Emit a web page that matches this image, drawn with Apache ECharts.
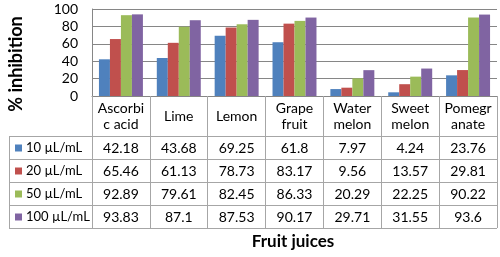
<!DOCTYPE html>
<html>
<head>
<meta charset="utf-8">
<script src="https://cdn.jsdelivr.net/npm/echarts@6/dist/echarts.min.js"></script>
<style>
  html, body { margin: 0; padding: 0; background: #fff; }
  #chart { width: 500px; height: 257px; }
</style>
</head>
<body>
<div id="chart"></div>
<script>
// chart data
const categories = ['Ascorbi\nc acid', 'Lime', 'Lemon', 'Grape\nfruit', 'Water\nmelon', 'Sweet\nmelon', 'Pomegr\nanate']
const seriesNames = ['10 µL/mL', '20 µL/mL', '50 µL/mL', '100 µL/mL']
const dose10 = [42.18, 43.68, 69.25, 61.8, 7.97, 4.24, 23.76]
const dose20 = [65.46, 61.13, 78.73, 83.17, 9.56, 13.57, 29.81]
const dose50 = [92.89, 79.61, 82.45, 86.33, 20.29, 22.25, 90.22]
const dose100 = [93.83, 87.1, 87.53, 90.17, 29.71, 31.55, 93.6]
const yTicks = [0, 20, 40, 60, 80, 100]

const seriesData = [dose10, dose20, dose50, dose100]
const colors = ['#4F81BD', '#C0504D', '#9BBB59', '#8064A2']
const font = 'Lato, "Open Sans", sans-serif'
const borderColor = '#A6A6A6'

const chart = echarts.init(document.getElementById('chart'), null, { renderer: 'canvas' })

// table geometry (header row below the axis, then one row per series)
const plotLeft = 92
const plotRight = 497
const axisY = 96
const headerBottom = 136
const rowH = 23
const tableLeft = 9

const option = {
  animation: false,
  backgroundColor: '#fff',
  textStyle: { fontFamily: font },
  grid: { left: plotLeft, right: 500 - plotRight, top: 9, bottom: 257 - axisY, containLabel: false },
  xAxis: {
    type: 'category',
    data: categories,
    axisLine: { show: true, lineStyle: { color: '#868686', width: 1 } },
    axisTick: { show: true, interval: 0, length: headerBottom - axisY + rowH * seriesData.length, lineStyle: { color: borderColor } },
    axisLabel: {
      interval: 0,
      color: '#000',
      fontSize: 14,
      lineHeight: 16,
      margin: (headerBottom - axisY) / 2,
      verticalAlign: 'middle',
      fontFamily: font
    }
  },
  yAxis: {
    type: 'value',
    min: yTicks[0],
    max: yTicks[yTicks.length - 1],
    interval: 20,
    axisLine: { show: true, lineStyle: { color: '#868686' } },
    axisTick: { show: false },
    axisLabel: { color: '#000', fontSize: 14, margin: 14, fontFamily: font },
    splitLine: { lineStyle: { color: '#868686', width: 1 } }
  },
  series: seriesData.map((d, i) => ({
    name: seriesNames[i],
    type: 'bar',
    data: d,
    barGap: '0%',
    barCategoryGap: '24%',
    itemStyle: { color: colors[i] }
  }))
}

chart.setOption(option)

// build the data table under the chart
const graphics = []
const lineStyle = { stroke: borderColor, lineWidth: 1 }
for (let r = 0; r <= seriesData.length; r++) {
  const y = headerBottom + r * rowH + 0.5
  graphics.push({ type: 'line', shape: { x1: tableLeft, y1: y, x2: plotRight, y2: y }, style: lineStyle, silent: true })
}
graphics.push({
  type: 'line',
  shape: { x1: tableLeft + 0.5, y1: headerBottom, x2: tableLeft + 0.5, y2: headerBottom + rowH * seriesData.length },
  style: lineStyle, silent: true
})
seriesData.forEach((d, r) => {
  const cy = headerBottom + r * rowH + rowH / 2 + 0.5
  graphics.push({ type: 'rect', shape: { x: 15, y: cy - 3.5, width: 7, height: 7 }, style: { fill: colors[r] }, silent: true })
  graphics.push({
    type: 'text', x: 26, y: cy,
    style: { text: seriesNames[r], fill: '#000', font: '13px ' + font, textAlign: 'left', textVerticalAlign: 'middle' },
    silent: true
  })
  d.forEach((v, c) => {
    const cx = chart.convertToPixel({ xAxisIndex: 0 }, c)
    graphics.push({
      type: 'text', x: cx, y: cy,
      style: { text: String(v), fill: '#000', font: '14px ' + font, textAlign: 'center', textVerticalAlign: 'middle' },
      silent: true
    })
  })
})
graphics.push({
  type: 'text', x: 16, y: 64, rotation: Math.PI / 2,
  style: { text: '% inhibition', fill: '#000', font: 'bold 18px ' + font, textAlign: 'center', textVerticalAlign: 'middle' },
  silent: true
})
graphics.push({
  type: 'text', x: 293, y: 242,
  style: { text: 'Fruit juices', fill: '#000', font: 'bold 17px ' + font, textAlign: 'center', textVerticalAlign: 'middle' },
  silent: true
})
chart.setOption({ graphic: graphics })

window.addEventListener('resize', () => chart.resize())
</script>
</body>
</html>
